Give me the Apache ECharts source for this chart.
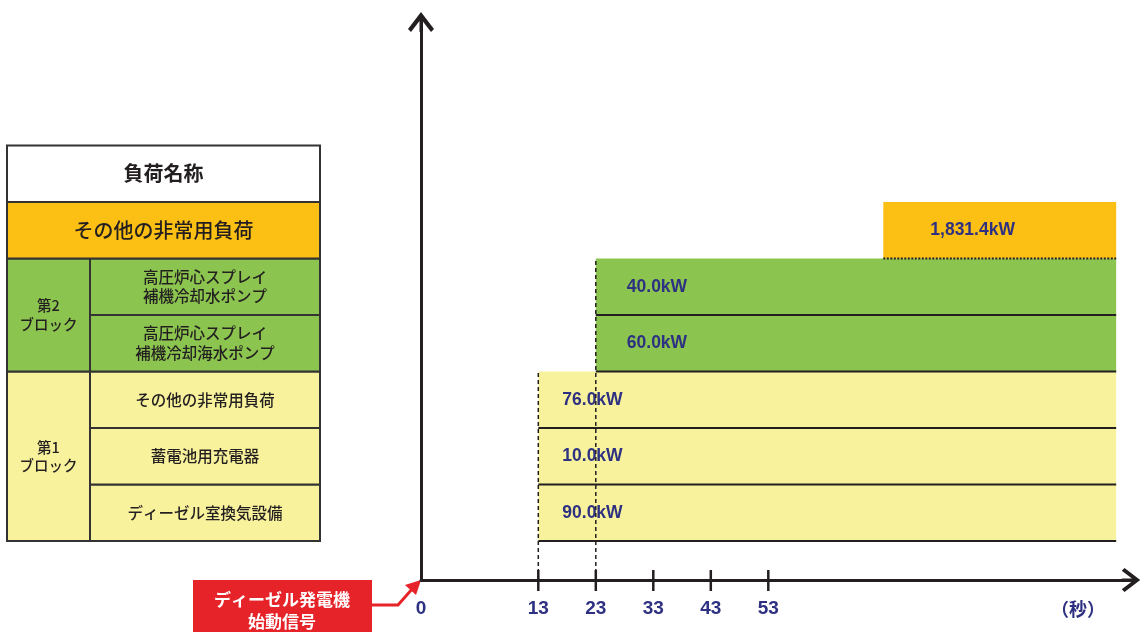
<!DOCTYPE html>
<html>
<head>
<meta charset="utf-8">
<script src="https://cdn.jsdelivr.net/npm/echarts@6.0.0/dist/echarts.min.js"></script>
<style>
html, body { margin: 0; padding: 0; background: #fff; }
#chart { width: 1144px; height: 632px; }
</style>
</head>
<body>
<div id="chart"></div>
<script>
// 時間軸の目盛り（秒）と、その目盛りが置かれる軸上の位置
var tickSeconds = [0, 13, 23, 33, 43, 53];
var tickSlots = [0, 2.04, 3.04, 4.04, 5.04, 6.04];

// 負荷（下の行から順に）
var loadKW = ['90.0kW', '10.0kW', '76.0kW', '60.0kW', '40.0kW', '1,831.4kW'];
var loadStart = [13, 13, 13, 23, 23, 73];
var loadEnd = [113.5, 113.5, 113.5, 113.5, 113.5, 113.5];
var loadGroup = ['block1', 'block1', 'block1', 'block2', 'block2', 'other'];

// 左の表
var tableItems = ['ディーゼル室換気設備', '蓄電池用充電器', 'その他の非常用負荷',
	'高圧炉心スプレイ\n補機冷却海水ポンプ', '高圧炉心スプレイ\n補機冷却水ポンプ'];
var blockNames = ['第1\nブロック', '第2\nブロック'];
var otherName = 'その他の非常用負荷';
var headerName = '負荷名称';

var colors = { block1: '#f8f29c', block2: '#8bc44f', other: '#fcbf13', header: '#ffffff' };
var navy = '#2e3181';
var ink = '#231f20';
var rowBase = 0.69;
var jp = '"Noto Sans CJK JP", sans-serif';
var num = '"Liberation Sans", Arial, sans-serif';
var arrowPath = 'path://M13,0 L26,17 L23,20 L14.5,9 L14.5,20 L11.5,20 L11.5,9 L3,20 L0,17 Z';

// 秒 -> 軸上の位置（目盛り間は線形、53秒以降は10秒で1目盛り）
function slotOf(s) {
	for (var i = 1; i < tickSeconds.length; i++) {
		if (s <= tickSeconds[i]) {
			var t = (s - tickSeconds[i - 1]) / (tickSeconds[i] - tickSeconds[i - 1]);
			return tickSlots[i - 1] + t * (tickSlots[i] - tickSlots[i - 1]);
		}
	}
	var n = tickSeconds.length - 1;
	return tickSlots[n] + (s - tickSeconds[n]) / 10;
}

var barData = loadKW.map(function (kw, i) {
	return [slotOf(loadStart[i]), slotOf(loadEnd[i]), i];
});

// 起動時刻ごとの破線（その時刻に始まる最上段まで）
var guideData = [];
loadStart.forEach(function (s, i) {
	if (loadGroup[i] == 'other') return;
	var found = guideData.filter(function (g) { return g[0] == slotOf(s); })[0];
	if (found) found[1] = Math.max(found[1], i + 1);
	else guideData.push([slotOf(s), i + 1]);
});

var tickData = tickSlots.filter(function (v) { return v > 0; }).map(function (v) { return [v]; });

// 表のセル: [x0, x1, row0, row1]
var colSplit = 83, tableW = 313;
var cells = [];
tableItems.forEach(function (name, i) {
	cells.push({ box: [colSplit, tableW, i, i + 1], text: name, fill: colors[loadGroup[i]], size: 15.5, bold: false });
});
cells.push({ box: [0, colSplit, 0, 3], text: blockNames[0], fill: colors.block1, size: 14.5, bold: false });
cells.push({ box: [0, colSplit, 3, 5], text: blockNames[1], fill: colors.block2, size: 14.5, bold: false });
cells.push({ box: [0, tableW, 5, 6], text: otherName, fill: colors.other, size: 20, bold: false });
cells.push({ box: [0, tableW, 6, 7], text: headerName, fill: colors.header, size: 20, bold: true });

var labelOffset = { block1: 24, block2: 31, other: 47 };

var myChart = echarts.init(document.getElementById('chart'));
var option = {
	animation: false,
	grid: [
		{ left: 421, right: 13, top: 22, bottom: 52 },
		{ left: 7, width: tableW, top: 22, bottom: 52 }
	],
	xAxis: [{
		type: 'value', gridIndex: 0, min: 0, max: 710 / 57.5,
		splitLine: { show: false },
		axisTick: { show: false },
		axisLine: {
			show: true, onZero: false,
			lineStyle: { color: ink, width: 3 },
			symbol: ['none', arrowPath],
			symbolSize: [24, 20]
		},
		axisLabel: {
			customValues: tickSlots,
			margin: 19,
			color: navy, fontSize: 19, fontWeight: 'bold', fontFamily: num,
			formatter: function (v) {
				var k = tickSlots.indexOf(Math.round(v * 1000) / 1000);
				return k >= 0 ? String(tickSeconds[k]) : '';
			}
		}
	}, {
		type: 'value', gridIndex: 1, min: 0, max: tableW, show: false
	}],
	yAxis: [{
		type: 'value', gridIndex: 0, min: 0, max: 558 / 56.5,
		splitLine: { show: false },
		axisTick: { show: false },
		axisLabel: { show: false },
		axisLine: {
			show: true, onZero: false,
			lineStyle: { color: ink, width: 3 },
			symbol: ['none', arrowPath],
			symbolSize: [26, 20]
		}
	}, {
		type: 'value', gridIndex: 1, min: 0, max: 558 / 56.5, show: false
	}],
	series: [{
		type: 'custom',
		xAxisIndex: 0, yAxisIndex: 0,
		z: 2,
		data: barData,
		renderItem: function (params, api) {
			var i = params.dataIndex;
			var g = loadGroup[i];
			var row = api.value(2);
			var tl = api.coord([api.value(0), rowBase + row + 1]);
			var br = api.coord([api.value(1), rowBase + row]);
			return {
				type: 'group',
				children: [{
					type: 'rect',
					shape: { x: tl[0], y: tl[1], width: br[0] - tl[0], height: br[1] - tl[1] },
					style: { fill: colors[g] }
				}, {
					type: 'line',
					shape: { x1: tl[0], y1: br[1], x2: br[0], y2: br[1] },
					style: g == 'other'
						? { stroke: ink, lineWidth: 2, lineDash: [2, 1.5] }
						: { stroke: ink, lineWidth: 2 }
				}, {
					type: 'text',
					style: {
						x: tl[0] + labelOffset[g], y: (tl[1] + br[1]) / 2,
						text: loadKW[i], fill: navy,
						font: 'bold 17.5px ' + num,
						align: 'left', verticalAlign: 'middle'
					},
					z2: 10
				}]
			};
		}
	}, {
		type: 'custom',
		xAxisIndex: 0, yAxisIndex: 0,
		z: 3,
		data: guideData,
		renderItem: function (params, api) {
			var a = api.coord([api.value(0), 0]);
			var b = api.coord([api.value(0), rowBase + api.value(1)]);
			return {
				type: 'line',
				shape: { x1: a[0], y1: a[1], x2: b[0], y2: b[1] },
				style: { stroke: ink, lineWidth: 1.5, lineDash: [4, 3] }
			};
		}
	}, {
		type: 'custom',
		xAxisIndex: 0, yAxisIndex: 0,
		z: 4,
		data: tickData,
		renderItem: function (params, api) {
			var p = api.coord([api.value(0), 0]);
			return {
				type: 'line',
				shape: { x1: p[0], y1: p[1] - 10, x2: p[0], y2: p[1] + 11 },
				style: { stroke: ink, lineWidth: 2.5 }
			};
		}
	}, {
		type: 'custom',
		xAxisIndex: 1, yAxisIndex: 1,
		data: cells.map(function (c, i) { return [c.box[0], c.box[1], c.box[2], c.box[3], i]; }),
		renderItem: function (params, api) {
			var c = cells[api.value(4)];
			var tl = api.coord([api.value(0), rowBase + api.value(3)]);
			var br = api.coord([api.value(1), rowBase + api.value(2)]);
			return {
				type: 'group',
				children: [{
					type: 'rect',
					shape: { x: tl[0], y: tl[1], width: br[0] - tl[0], height: br[1] - tl[1] },
					style: { fill: c.fill, stroke: '#333', lineWidth: 2 }
				}, {
					type: 'text',
					style: {
						x: (tl[0] + br[0]) / 2, y: (tl[1] + br[1]) / 2,
						text: c.text, fill: '#231f20',
						font: (c.bold ? 'bold ' : '500 ') + c.size + 'px ' + jp,
						lineHeight: c.size + 4,
						align: 'center', verticalAlign: 'middle'
					}
				}]
			};
		}
	}],
	graphic: [{
		type: 'rect',
		shape: { x: 193, y: 580, width: 179, height: 60 },
		style: { fill: '#e52329' }
	}, {
		type: 'text',
		style: {
			x: 282, y: 611, text: 'ディーゼル発電機\n始動信号',
			fill: '#fff', font: 'bold 17px ' + jp, lineHeight: 22,
			align: 'center', verticalAlign: 'middle'
		}
	}, {
		type: 'polyline',
		shape: { points: [[371, 605], [398, 605], [413, 588]] },
		style: { stroke: '#e52329', lineWidth: 3, fill: null }
	}, {
		type: 'polygon',
		shape: { points: [[421, 580], [416, 595], [405, 585]] },
		style: { fill: '#e52329' }
	}, {
		type: 'text',
		style: {
			x: 1078, y: 609, text: '（秒）', fill: navy,
			font: 'bold 18px ' + jp, align: 'center', verticalAlign: 'middle'
		}
	}]
};
myChart.setOption(option);
</script>
</body>
</html>
